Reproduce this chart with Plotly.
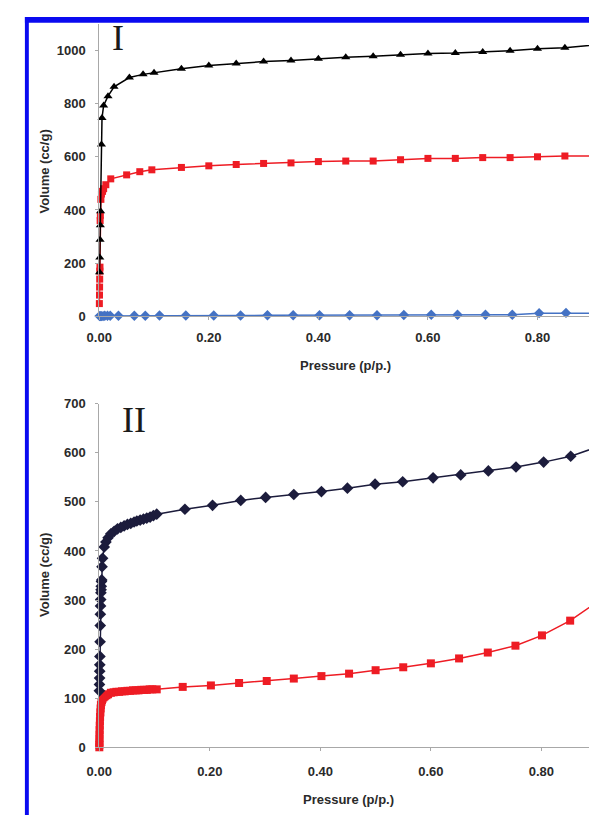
import plotly.graph_objects as go

W, H = 597, 815
OFF = 8  # page body margin of the rendered html

# ---------------- Panel I data ----------------
p1_black = [0.0005, 0.001, 0.0015, 0.002, 0.0025, 0.004, 0.005, 0.008, 0.016, 0.027, 0.055, 0.08, 0.10,
            0.15, 0.20, 0.25, 0.30, 0.35, 0.40, 0.45, 0.50, 0.55, 0.60, 0.65, 0.70, 0.75, 0.80, 0.85, 0.95]
v1_black = [166, 221, 288, 343, 395, 646, 746, 793, 828, 863, 898, 910, 916,
            931, 943, 951, 958, 962, 969, 974, 978, 984, 988, 990, 994, 999, 1006, 1010, 1030]

p1_red = [0.0002, 0.0004, 0.0006, 0.0008, 0.001, 0.0013, 0.0016, 0.002, 0.003, 0.004, 0.006, 0.008, 0.012,
          0.021, 0.05, 0.074, 0.096, 0.15, 0.20, 0.25, 0.30, 0.35, 0.40, 0.45, 0.50, 0.55, 0.60, 0.65,
          0.70, 0.75, 0.80, 0.85, 0.95]
v1_red = [48, 80, 110, 140, 170, 185, 360, 380, 440, 460, 470, 480, 495,
          517, 532, 544, 551, 560, 566, 571, 575, 577, 582, 584, 584, 589, 594, 594,
          597, 597, 600, 603, 604]

p1_blue = [0.0005, 0.002, 0.004, 0.007, 0.01, 0.015, 0.02, 0.035, 0.064, 0.084, 0.11, 0.158, 0.209, 0.258,
           0.307, 0.354, 0.402, 0.457, 0.507, 0.556, 0.606, 0.654, 0.705, 0.754, 0.803, 0.852, 0.95]
v1_blue = [1, 1, 1, 1, 2, 2, 2, 2, 2, 2, 3, 3, 3, 3,
           4, 4, 4, 4, 4, 5, 6, 6, 6, 6, 12, 13, 12]

# ---------------- Panel II data ----------------
p2_navy = [0.0002, 0.0004, 0.0006, 0.0008, 0.001, 0.0012, 0.0015, 0.0018, 0.002, 0.0023, 0.0026, 0.003,
           0.0033, 0.0036, 0.004, 0.0045, 0.005, 0.006, 0.009,
           0.012, 0.016, 0.021, 0.027, 0.033, 0.039, 0.045, 0.051, 0.057, 0.063, 0.068, 0.074, 0.080,
           0.086, 0.092, 0.098, 0.104,
           0.155, 0.205, 0.256, 0.301, 0.352, 0.402, 0.449, 0.499, 0.549, 0.604, 0.654, 0.704, 0.754,
           0.804, 0.853, 0.899, 0.95]
v2_navy = [115, 128, 141, 155, 168, 185, 215, 248, 271, 288, 301, 315,
           321, 328, 338, 341, 368, 385, 408,
           418, 427, 435, 440, 445, 448, 451, 454, 456, 459, 461, 463, 465,
           467, 469, 472, 475,
           485, 493, 503, 509, 515, 521, 528, 536, 541, 549, 555, 563, 571,
           581, 593, 611, 632]

p2_red = [0.0001, 0.0002, 0.0003, 0.0004, 0.0005, 0.0007, 0.0009, 0.0012, 0.0015, 0.002, 0.0025, 0.003,
          0.004, 0.005, 0.006, 0.008, 0.010, 0.013, 0.016,
          0.021, 0.026, 0.031, 0.036, 0.041, 0.046, 0.051, 0.056, 0.061, 0.066, 0.071, 0.076, 0.081,
          0.086, 0.091, 0.096, 0.104,
          0.151, 0.202, 0.253, 0.303, 0.352, 0.402, 0.452, 0.50, 0.55, 0.60, 0.651, 0.703, 0.753,
          0.801, 0.852, 0.897, 0.95]
v2_red = [0, 5, 10, 18, 26, 35, 44, 53, 62, 71, 79, 86,
          92, 96, 99, 102, 104, 106, 108,
          111, 112, 113, 113, 114, 114, 115, 115, 116, 116, 116, 117, 117,
          117, 118, 118, 118,
          123, 126, 131, 135, 140, 145, 150, 157, 163, 171, 181, 193, 207,
          228, 258, 293, 340]

x_ticks = [0, 0.2, 0.4, 0.6, 0.8]
x_tick_text = ["0.00", "0.20", "0.40", "0.60", "0.80"]
y1_ticks = [0, 200, 400, 600, 800, 1000]
y2_ticks = [0, 100, 200, 300, 400, 500, 600, 700]


def px(x):
    return (x - OFF) / W


def py(y):
    return 1 - (y - OFF) / H


BLACK = "#000000"
RED = "#ee1c24"
BLUE = "#4472c4"
NAVY = "#1c1c3c"

fig = go.Figure()

fig.add_trace(go.Scatter(x=p1_blue, y=v1_blue, mode="lines+markers", xaxis="x", yaxis="y",
                         line=dict(color=BLUE, width=1.5),
                         marker=dict(symbol="diamond", size=8, color=BLUE), cliponaxis=False))
fig.add_trace(go.Scatter(x=p1_red, y=v1_red, mode="lines+markers", xaxis="x", yaxis="y",
                         line=dict(color=RED, width=1.5),
                         marker=dict(symbol="square", size=7, color=RED), cliponaxis=False))
fig.add_trace(go.Scatter(x=p1_black, y=v1_black, mode="lines+markers", xaxis="x", yaxis="y",
                         line=dict(color=BLACK, width=1.5),
                         marker=dict(symbol="triangle-up", size=8, color=BLACK), cliponaxis=False))

fig.add_trace(go.Scatter(x=p2_red, y=v2_red, mode="lines+markers", xaxis="x2", yaxis="y2",
                         line=dict(color=RED, width=1.5),
                         marker=dict(symbol="square", size=8, color=RED), cliponaxis=False))
fig.add_trace(go.Scatter(x=p2_navy, y=v2_navy, mode="lines+markers", xaxis="x2", yaxis="y2",
                         line=dict(color=NAVY, width=1.5),
                         marker=dict(symbol="diamond", size=9, color=NAVY), cliponaxis=False))

tickfont = dict(family="Liberation Sans, Arial, sans-serif", size=13, color="#2a2a2a", weight="bold")
axis_common = dict(showgrid=False, zeroline=False, showline=True, linecolor="#a8a8a8", linewidth=1,
                   ticks="outside", ticklen=3, tickcolor="#a8a8a8", tickfont=tickfont)

# plot spans to the right edge of the visible page; scale 560 px/unit (I), 565 px/unit (II)
x1_max = (W - (88 - OFF)) / 560.0
x2_max = (W - (88 - OFF)) / 565.0

fig.update_layout(
    width=W, height=H,
    margin=dict(l=0, r=0, t=0, b=0),
    paper_bgcolor="white", plot_bgcolor="white",
    showlegend=False,
    xaxis=dict(domain=[px(88), 1], range=[0, x1_max], anchor="y",
               tickvals=x_ticks, ticktext=x_tick_text, ticklabelstandoff=6, **axis_common),
    yaxis=dict(domain=[py(315), py(17)], range=[0, 1100], anchor="x",
               tickvals=y1_ticks, ticklabelstandoff=7, **axis_common),
    xaxis2=dict(domain=[px(88), 1], range=[0, x2_max], anchor="y2",
                tickvals=x_ticks, ticktext=x_tick_text, ticklabelstandoff=9, **axis_common),
    yaxis2=dict(domain=[py(754), py(404)], range=[0, 700], anchor="x2",
                tickvals=y2_ticks, ticklabelstandoff=7, **axis_common),
)

labfont = dict(family="Liberation Sans, Arial, sans-serif", size=13, color="#2a2a2a", weight="bold")
romfont = dict(family="Liberation Serif, Times New Roman, serif", size=36, color="#1a1a1a")

annots = [
    dict(text="Pressure (p/p.)", x=px(340), y=py(365), font=labfont),
    dict(text="Pressure (p/p.)", x=px(343), y=py(807), font=labfont),
    dict(text="Volume (cc/g)", x=px(32), y=py(167), font=labfont, textangle=-90),
    dict(text="Volume (cc/g)", x=px(32), y=py(578), font=labfont, textangle=-90),
    dict(text="I", x=px(107), y=py(31), font=romfont),
    dict(text="II", x=px(124), y=py(421), font=romfont),
]
for a in annots:
    fig.add_annotation(xref="paper", yref="paper", showarrow=False, xanchor="center", yanchor="middle", **a)

# blue frame (top and left)
fig.add_shape(type="rect", xref="paper", yref="paper", x0=px(12), x1=1.01, y0=py(16), y1=py(10),
              fillcolor="#0a0af0", line=dict(width=0), layer="above")
fig.add_shape(type="rect", xref="paper", yref="paper", x0=px(12), x1=px(16), y0=-0.01, y1=py(10),
              fillcolor="#0a0af0", line=dict(width=0), layer="above")

fig.write_html("out.html")
